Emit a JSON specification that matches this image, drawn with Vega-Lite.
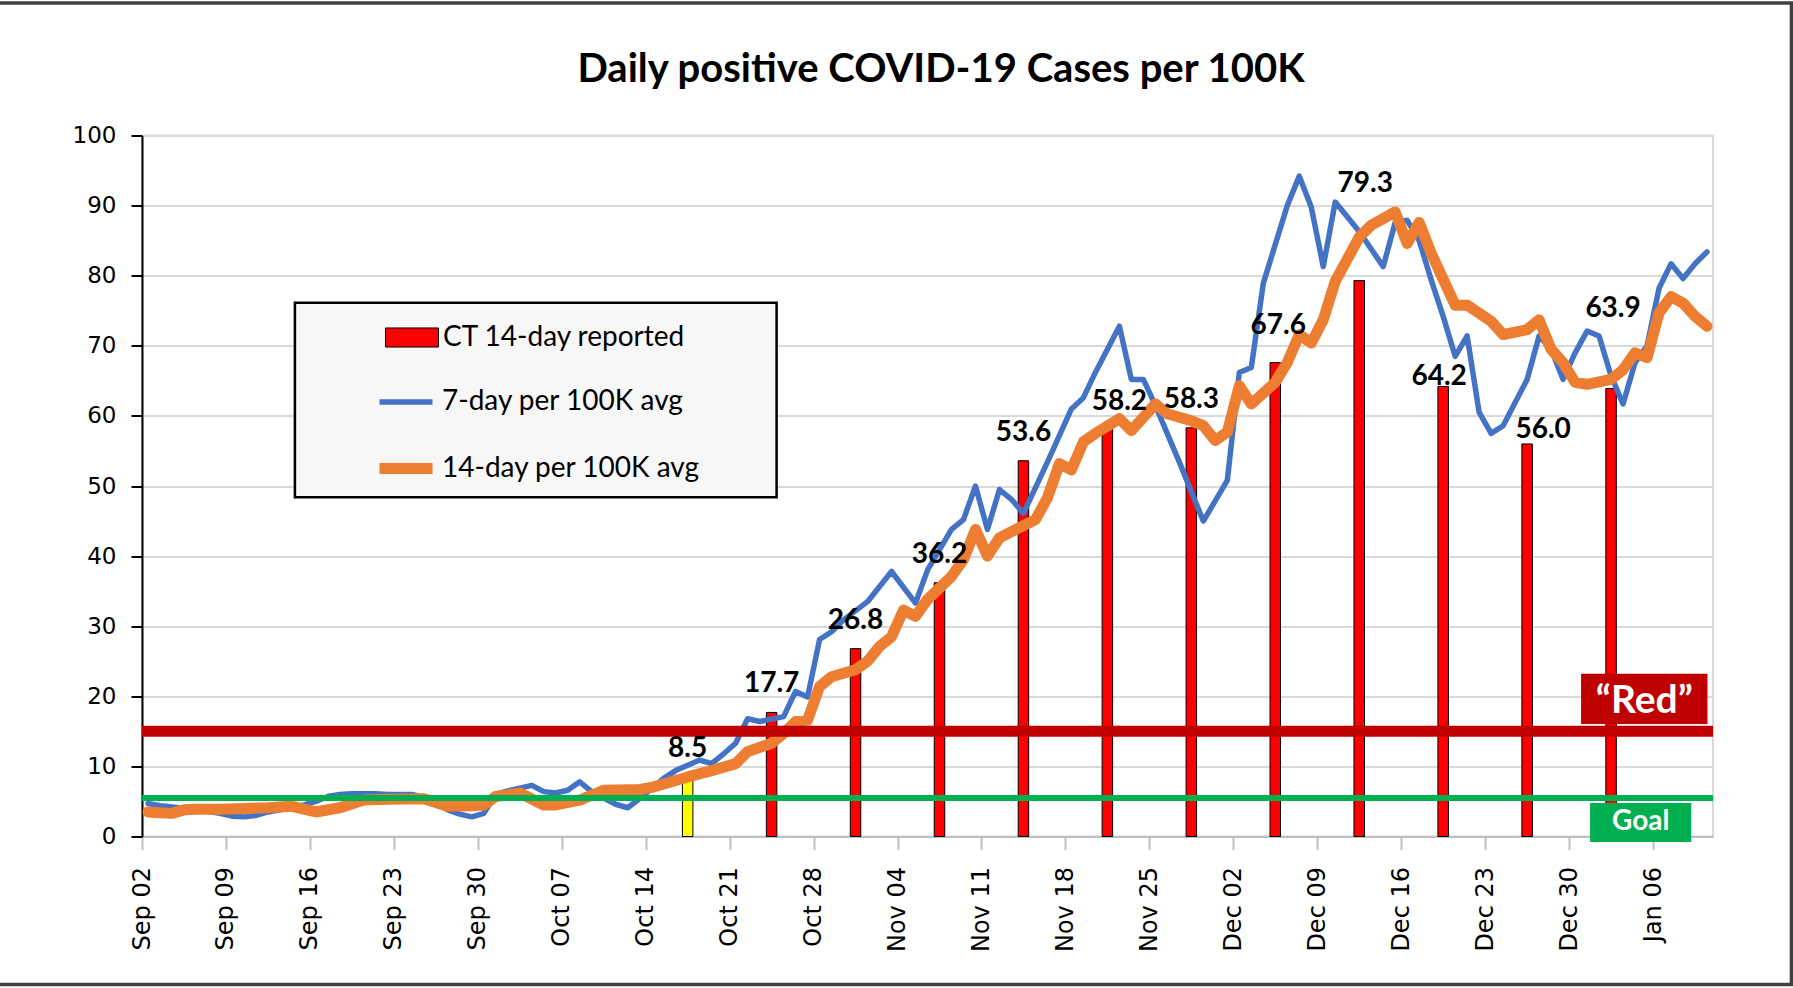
{
  "$schema": "https://vega.github.io/schema/vega-lite/v6.json",
  "autosize": {"type": "none"},
  "padding": {"left": 142, "top": 135.5, "right": 80, "bottom": 151.5},
  "width": 1571,
  "height": 701,
  "background": "white",
  "title": {"text": "Daily positive COVID-19 Cases per 100K", "font": "Lato", "fontSize": 40, "fontWeight": "bold", "color": "black", "anchor": "middle", "frame": "group", "baseline": "alphabetic", "offset": 0, "dx": 13.5, "dy": 121},
  "config": {
    "view": {"stroke": "#D9D9D9", "strokeWidth": 2}
  },
  "datasets": {
    "bars": [
      {"date": "2020-10-17", "series": "CT 14-day reported", "value": 8.5},
      {"date": "2020-10-24", "series": "CT 14-day reported", "value": 17.7},
      {"date": "2020-10-31", "series": "CT 14-day reported", "value": 26.8},
      {"date": "2020-11-07", "series": "CT 14-day reported", "value": 36.2},
      {"date": "2020-11-14", "series": "CT 14-day reported", "value": 53.6},
      {"date": "2020-11-21", "series": "CT 14-day reported", "value": 58.2},
      {"date": "2020-11-28", "series": "CT 14-day reported", "value": 58.3},
      {"date": "2020-12-05", "series": "CT 14-day reported", "value": 67.6},
      {"date": "2020-12-12", "series": "CT 14-day reported", "value": 79.3},
      {"date": "2020-12-19", "series": "CT 14-day reported", "value": 64.2},
      {"date": "2020-12-26", "series": "CT 14-day reported", "value": 56.0},
      {"date": "2021-01-02", "series": "CT 14-day reported", "value": 63.9}
    ],
    "avg7": [
      {"date": "2020-09-02", "series": "7-day per 100K avg", "value": 4.7},
      {"date": "2020-09-03", "series": "7-day per 100K avg", "value": 4.4},
      {"date": "2020-09-04", "series": "7-day per 100K avg", "value": 4.2},
      {"date": "2020-09-05", "series": "7-day per 100K avg", "value": 4.0},
      {"date": "2020-09-06", "series": "7-day per 100K avg", "value": 3.8},
      {"date": "2020-09-07", "series": "7-day per 100K avg", "value": 3.6},
      {"date": "2020-09-08", "series": "7-day per 100K avg", "value": 3.3},
      {"date": "2020-09-09", "series": "7-day per 100K avg", "value": 2.9},
      {"date": "2020-09-10", "series": "7-day per 100K avg", "value": 2.8},
      {"date": "2020-09-11", "series": "7-day per 100K avg", "value": 3.0},
      {"date": "2020-09-12", "series": "7-day per 100K avg", "value": 3.5},
      {"date": "2020-09-13", "series": "7-day per 100K avg", "value": 3.8},
      {"date": "2020-09-14", "series": "7-day per 100K avg", "value": 4.1},
      {"date": "2020-09-15", "series": "7-day per 100K avg", "value": 4.5},
      {"date": "2020-09-16", "series": "7-day per 100K avg", "value": 5.0},
      {"date": "2020-09-17", "series": "7-day per 100K avg", "value": 5.7},
      {"date": "2020-09-18", "series": "7-day per 100K avg", "value": 6.0},
      {"date": "2020-09-19", "series": "7-day per 100K avg", "value": 6.1},
      {"date": "2020-09-20", "series": "7-day per 100K avg", "value": 6.1},
      {"date": "2020-09-21", "series": "7-day per 100K avg", "value": 6.1},
      {"date": "2020-09-22", "series": "7-day per 100K avg", "value": 6.0},
      {"date": "2020-09-23", "series": "7-day per 100K avg", "value": 6.0},
      {"date": "2020-09-24", "series": "7-day per 100K avg", "value": 6.0},
      {"date": "2020-09-25", "series": "7-day per 100K avg", "value": 5.6},
      {"date": "2020-09-26", "series": "7-day per 100K avg", "value": 4.8},
      {"date": "2020-09-27", "series": "7-day per 100K avg", "value": 3.8},
      {"date": "2020-09-28", "series": "7-day per 100K avg", "value": 3.2},
      {"date": "2020-09-29", "series": "7-day per 100K avg", "value": 2.8},
      {"date": "2020-09-30", "series": "7-day per 100K avg", "value": 3.3},
      {"date": "2020-10-01", "series": "7-day per 100K avg", "value": 6.0},
      {"date": "2020-10-02", "series": "7-day per 100K avg", "value": 6.5},
      {"date": "2020-10-03", "series": "7-day per 100K avg", "value": 6.9},
      {"date": "2020-10-04", "series": "7-day per 100K avg", "value": 7.3},
      {"date": "2020-10-05", "series": "7-day per 100K avg", "value": 6.4},
      {"date": "2020-10-06", "series": "7-day per 100K avg", "value": 6.2},
      {"date": "2020-10-07", "series": "7-day per 100K avg", "value": 6.6},
      {"date": "2020-10-08", "series": "7-day per 100K avg", "value": 7.8},
      {"date": "2020-10-09", "series": "7-day per 100K avg", "value": 6.4},
      {"date": "2020-10-10", "series": "7-day per 100K avg", "value": 5.5},
      {"date": "2020-10-11", "series": "7-day per 100K avg", "value": 4.6},
      {"date": "2020-10-12", "series": "7-day per 100K avg", "value": 4.1},
      {"date": "2020-10-13", "series": "7-day per 100K avg", "value": 5.4},
      {"date": "2020-10-15", "series": "7-day per 100K avg", "value": 8.3},
      {"date": "2020-10-16", "series": "7-day per 100K avg", "value": 9.4},
      {"date": "2020-10-18", "series": "7-day per 100K avg", "value": 10.9},
      {"date": "2020-10-19", "series": "7-day per 100K avg", "value": 10.4},
      {"date": "2020-10-20", "series": "7-day per 100K avg", "value": 11.8},
      {"date": "2020-10-21", "series": "7-day per 100K avg", "value": 13.3},
      {"date": "2020-10-22", "series": "7-day per 100K avg", "value": 16.8},
      {"date": "2020-10-23", "series": "7-day per 100K avg", "value": 16.4},
      {"date": "2020-10-25", "series": "7-day per 100K avg", "value": 17.1},
      {"date": "2020-10-26", "series": "7-day per 100K avg", "value": 20.7},
      {"date": "2020-10-27", "series": "7-day per 100K avg", "value": 19.9},
      {"date": "2020-10-28", "series": "7-day per 100K avg", "value": 28.1},
      {"date": "2020-10-29", "series": "7-day per 100K avg", "value": 29.2},
      {"date": "2020-10-30", "series": "7-day per 100K avg", "value": 30.9},
      {"date": "2020-11-01", "series": "7-day per 100K avg", "value": 33.5},
      {"date": "2020-11-03", "series": "7-day per 100K avg", "value": 37.8},
      {"date": "2020-11-05", "series": "7-day per 100K avg", "value": 33.3},
      {"date": "2020-11-06", "series": "7-day per 100K avg", "value": 38.0},
      {"date": "2020-11-08", "series": "7-day per 100K avg", "value": 43.8},
      {"date": "2020-11-09", "series": "7-day per 100K avg", "value": 45.2},
      {"date": "2020-11-10", "series": "7-day per 100K avg", "value": 50.0},
      {"date": "2020-11-11", "series": "7-day per 100K avg", "value": 43.8},
      {"date": "2020-11-12", "series": "7-day per 100K avg", "value": 49.5},
      {"date": "2020-11-13", "series": "7-day per 100K avg", "value": 48.1},
      {"date": "2020-11-14", "series": "7-day per 100K avg", "value": 46.1},
      {"date": "2020-11-16", "series": "7-day per 100K avg", "value": 53.4},
      {"date": "2020-11-18", "series": "7-day per 100K avg", "value": 61.0},
      {"date": "2020-11-19", "series": "7-day per 100K avg", "value": 62.6},
      {"date": "2020-11-20", "series": "7-day per 100K avg", "value": 66.2},
      {"date": "2020-11-22", "series": "7-day per 100K avg", "value": 72.8},
      {"date": "2020-11-23", "series": "7-day per 100K avg", "value": 65.2},
      {"date": "2020-11-24", "series": "7-day per 100K avg", "value": 65.2},
      {"date": "2020-11-25", "series": "7-day per 100K avg", "value": 61.5},
      {"date": "2020-11-27", "series": "7-day per 100K avg", "value": 53.4},
      {"date": "2020-11-29", "series": "7-day per 100K avg", "value": 45.0},
      {"date": "2020-12-01", "series": "7-day per 100K avg", "value": 50.8},
      {"date": "2020-12-02", "series": "7-day per 100K avg", "value": 66.2},
      {"date": "2020-12-03", "series": "7-day per 100K avg", "value": 66.9},
      {"date": "2020-12-04", "series": "7-day per 100K avg", "value": 78.9},
      {"date": "2020-12-06", "series": "7-day per 100K avg", "value": 90.0},
      {"date": "2020-12-07", "series": "7-day per 100K avg", "value": 94.2},
      {"date": "2020-12-08", "series": "7-day per 100K avg", "value": 89.8},
      {"date": "2020-12-09", "series": "7-day per 100K avg", "value": 81.3},
      {"date": "2020-12-10", "series": "7-day per 100K avg", "value": 90.5},
      {"date": "2020-12-12", "series": "7-day per 100K avg", "value": 86.3},
      {"date": "2020-12-14", "series": "7-day per 100K avg", "value": 81.3},
      {"date": "2020-12-15", "series": "7-day per 100K avg", "value": 87.6},
      {"date": "2020-12-16", "series": "7-day per 100K avg", "value": 87.9},
      {"date": "2020-12-17", "series": "7-day per 100K avg", "value": 85.0},
      {"date": "2020-12-18", "series": "7-day per 100K avg", "value": 79.4},
      {"date": "2020-12-19", "series": "7-day per 100K avg", "value": 74.2},
      {"date": "2020-12-20", "series": "7-day per 100K avg", "value": 68.5},
      {"date": "2020-12-21", "series": "7-day per 100K avg", "value": 71.4},
      {"date": "2020-12-22", "series": "7-day per 100K avg", "value": 60.5},
      {"date": "2020-12-23", "series": "7-day per 100K avg", "value": 57.5},
      {"date": "2020-12-24", "series": "7-day per 100K avg", "value": 58.6},
      {"date": "2020-12-26", "series": "7-day per 100K avg", "value": 65.2},
      {"date": "2020-12-27", "series": "7-day per 100K avg", "value": 71.4},
      {"date": "2020-12-28", "series": "7-day per 100K avg", "value": 69.5},
      {"date": "2020-12-29", "series": "7-day per 100K avg", "value": 65.2},
      {"date": "2020-12-30", "series": "7-day per 100K avg", "value": 69.0},
      {"date": "2020-12-31", "series": "7-day per 100K avg", "value": 72.1},
      {"date": "2021-01-01", "series": "7-day per 100K avg", "value": 71.4},
      {"date": "2021-01-02", "series": "7-day per 100K avg", "value": 65.7},
      {"date": "2021-01-03", "series": "7-day per 100K avg", "value": 61.7},
      {"date": "2021-01-04", "series": "7-day per 100K avg", "value": 67.6},
      {"date": "2021-01-05", "series": "7-day per 100K avg", "value": 70.0},
      {"date": "2021-01-06", "series": "7-day per 100K avg", "value": 78.2},
      {"date": "2021-01-07", "series": "7-day per 100K avg", "value": 81.7},
      {"date": "2021-01-08", "series": "7-day per 100K avg", "value": 79.6},
      {"date": "2021-01-09", "series": "7-day per 100K avg", "value": 81.7},
      {"date": "2021-01-10", "series": "7-day per 100K avg", "value": 83.4}
    ],
    "avg14": [
      {"date": "2020-09-02", "series": "14-day per 100K avg", "value": 3.5},
      {"date": "2020-09-03", "series": "14-day per 100K avg", "value": 3.4},
      {"date": "2020-09-04", "series": "14-day per 100K avg", "value": 3.3},
      {"date": "2020-09-05", "series": "14-day per 100K avg", "value": 3.8},
      {"date": "2020-09-06", "series": "14-day per 100K avg", "value": 3.9},
      {"date": "2020-09-08", "series": "14-day per 100K avg", "value": 3.9},
      {"date": "2020-09-10", "series": "14-day per 100K avg", "value": 4.0},
      {"date": "2020-09-12", "series": "14-day per 100K avg", "value": 4.1},
      {"date": "2020-09-14", "series": "14-day per 100K avg", "value": 4.3},
      {"date": "2020-09-16", "series": "14-day per 100K avg", "value": 3.5},
      {"date": "2020-09-18", "series": "14-day per 100K avg", "value": 4.1},
      {"date": "2020-09-20", "series": "14-day per 100K avg", "value": 5.2},
      {"date": "2020-09-22", "series": "14-day per 100K avg", "value": 5.3},
      {"date": "2020-09-25", "series": "14-day per 100K avg", "value": 5.4},
      {"date": "2020-09-27", "series": "14-day per 100K avg", "value": 4.3},
      {"date": "2020-09-29", "series": "14-day per 100K avg", "value": 4.4},
      {"date": "2020-09-30", "series": "14-day per 100K avg", "value": 4.5},
      {"date": "2020-10-01", "series": "14-day per 100K avg", "value": 5.7},
      {"date": "2020-10-03", "series": "14-day per 100K avg", "value": 6.2},
      {"date": "2020-10-05", "series": "14-day per 100K avg", "value": 4.5},
      {"date": "2020-10-06", "series": "14-day per 100K avg", "value": 4.5},
      {"date": "2020-10-08", "series": "14-day per 100K avg", "value": 5.2},
      {"date": "2020-10-10", "series": "14-day per 100K avg", "value": 6.6},
      {"date": "2020-10-13", "series": "14-day per 100K avg", "value": 6.7},
      {"date": "2020-10-14", "series": "14-day per 100K avg", "value": 7.0},
      {"date": "2020-10-15", "series": "14-day per 100K avg", "value": 7.5},
      {"date": "2020-10-17", "series": "14-day per 100K avg", "value": 8.5},
      {"date": "2020-10-19", "series": "14-day per 100K avg", "value": 9.4},
      {"date": "2020-10-21", "series": "14-day per 100K avg", "value": 10.4},
      {"date": "2020-10-22", "series": "14-day per 100K avg", "value": 12.1},
      {"date": "2020-10-24", "series": "14-day per 100K avg", "value": 13.3},
      {"date": "2020-10-25", "series": "14-day per 100K avg", "value": 14.7},
      {"date": "2020-10-26", "series": "14-day per 100K avg", "value": 16.4},
      {"date": "2020-10-27", "series": "14-day per 100K avg", "value": 16.6},
      {"date": "2020-10-28", "series": "14-day per 100K avg", "value": 21.4},
      {"date": "2020-10-29", "series": "14-day per 100K avg", "value": 22.8},
      {"date": "2020-10-31", "series": "14-day per 100K avg", "value": 23.8},
      {"date": "2020-11-01", "series": "14-day per 100K avg", "value": 25.0},
      {"date": "2020-11-02", "series": "14-day per 100K avg", "value": 27.1},
      {"date": "2020-11-03", "series": "14-day per 100K avg", "value": 28.5},
      {"date": "2020-11-04", "series": "14-day per 100K avg", "value": 32.3},
      {"date": "2020-11-05", "series": "14-day per 100K avg", "value": 31.4},
      {"date": "2020-11-06", "series": "14-day per 100K avg", "value": 33.8},
      {"date": "2020-11-08", "series": "14-day per 100K avg", "value": 37.1},
      {"date": "2020-11-09", "series": "14-day per 100K avg", "value": 39.5},
      {"date": "2020-11-10", "series": "14-day per 100K avg", "value": 43.8},
      {"date": "2020-11-11", "series": "14-day per 100K avg", "value": 40.0},
      {"date": "2020-11-12", "series": "14-day per 100K avg", "value": 42.6},
      {"date": "2020-11-13", "series": "14-day per 100K avg", "value": 43.5},
      {"date": "2020-11-15", "series": "14-day per 100K avg", "value": 45.2},
      {"date": "2020-11-16", "series": "14-day per 100K avg", "value": 48.3},
      {"date": "2020-11-17", "series": "14-day per 100K avg", "value": 53.2},
      {"date": "2020-11-18", "series": "14-day per 100K avg", "value": 52.3},
      {"date": "2020-11-19", "series": "14-day per 100K avg", "value": 56.3},
      {"date": "2020-11-20", "series": "14-day per 100K avg", "value": 57.5},
      {"date": "2020-11-22", "series": "14-day per 100K avg", "value": 59.6},
      {"date": "2020-11-23", "series": "14-day per 100K avg", "value": 57.9},
      {"date": "2020-11-25", "series": "14-day per 100K avg", "value": 61.7},
      {"date": "2020-11-26", "series": "14-day per 100K avg", "value": 60.3},
      {"date": "2020-11-28", "series": "14-day per 100K avg", "value": 59.3},
      {"date": "2020-11-29", "series": "14-day per 100K avg", "value": 58.6},
      {"date": "2020-11-30", "series": "14-day per 100K avg", "value": 56.5},
      {"date": "2020-12-01", "series": "14-day per 100K avg", "value": 57.7},
      {"date": "2020-12-02", "series": "14-day per 100K avg", "value": 64.3},
      {"date": "2020-12-03", "series": "14-day per 100K avg", "value": 61.7},
      {"date": "2020-12-05", "series": "14-day per 100K avg", "value": 64.8},
      {"date": "2020-12-06", "series": "14-day per 100K avg", "value": 67.6},
      {"date": "2020-12-07", "series": "14-day per 100K avg", "value": 71.6},
      {"date": "2020-12-08", "series": "14-day per 100K avg", "value": 70.4},
      {"date": "2020-12-09", "series": "14-day per 100K avg", "value": 73.7},
      {"date": "2020-12-10", "series": "14-day per 100K avg", "value": 79.2},
      {"date": "2020-12-12", "series": "14-day per 100K avg", "value": 85.5},
      {"date": "2020-12-13", "series": "14-day per 100K avg", "value": 87.2},
      {"date": "2020-12-15", "series": "14-day per 100K avg", "value": 89.1},
      {"date": "2020-12-16", "series": "14-day per 100K avg", "value": 84.6},
      {"date": "2020-12-17", "series": "14-day per 100K avg", "value": 87.6},
      {"date": "2020-12-18", "series": "14-day per 100K avg", "value": 83.2},
      {"date": "2020-12-20", "series": "14-day per 100K avg", "value": 75.8},
      {"date": "2020-12-21", "series": "14-day per 100K avg", "value": 75.8},
      {"date": "2020-12-23", "series": "14-day per 100K avg", "value": 73.5},
      {"date": "2020-12-24", "series": "14-day per 100K avg", "value": 71.6},
      {"date": "2020-12-26", "series": "14-day per 100K avg", "value": 72.3},
      {"date": "2020-12-27", "series": "14-day per 100K avg", "value": 73.7},
      {"date": "2020-12-28", "series": "14-day per 100K avg", "value": 69.5},
      {"date": "2020-12-29", "series": "14-day per 100K avg", "value": 67.6},
      {"date": "2020-12-30", "series": "14-day per 100K avg", "value": 64.8},
      {"date": "2020-12-31", "series": "14-day per 100K avg", "value": 64.5},
      {"date": "2021-01-02", "series": "14-day per 100K avg", "value": 65.2},
      {"date": "2021-01-03", "series": "14-day per 100K avg", "value": 66.6},
      {"date": "2021-01-04", "series": "14-day per 100K avg", "value": 69.0},
      {"date": "2021-01-05", "series": "14-day per 100K avg", "value": 68.3},
      {"date": "2021-01-06", "series": "14-day per 100K avg", "value": 74.7},
      {"date": "2021-01-07", "series": "14-day per 100K avg", "value": 77.0},
      {"date": "2021-01-08", "series": "14-day per 100K avg", "value": 76.1},
      {"date": "2021-01-09", "series": "14-day per 100K avg", "value": 74.2},
      {"date": "2021-01-10", "series": "14-day per 100K avg", "value": 72.8}
    ]
  },
  "layer": [
    {
      "data": {"values": [{}]},
      "mark": {"type": "rect", "filled": false, "stroke": "#404040", "strokeWidth": 3.5},
      "encoding": {
        "x": {"datum": {"year": 2020, "month": 8, "date": 20, "hours": 21, "utc": true}, "type": "temporal", "axis": {"title": null, "labelExpr": "utcFormat(datum.value, '%b %d')"}, "scale": {"type": "utc", "domain": [{"year": 2020, "month": 9, "date": 2, "utc": true}, {"year": 2021, "month": 1, "date": 11, "utc": true}]}},
        "x2": {"datum": {"year": 2021, "month": 1, "date": 17, "hours": 13, "utc": true}},
        "y": {"datum": 118.9, "type": "quantitative", "axis": {"title": null}, "scale": {"domain": [0, 100], "nice": false}},
        "y2": {"datum": -21.1}
      }
    },
    {
      "data": {"values": [{}]},
      "mark": {"type": "rect", "fill": "#F7F7F7", "stroke": "black", "strokeWidth": 2.5},
      "encoding": {
        "x": {"datum": {"year": 2020, "month": 9, "date": 14, "hours": 18, "utc": true}, "type": "temporal", "axis": {"title": null, "labelExpr": "utcFormat(datum.value, '%b %d')"}},
        "x2": {"datum": {"year": 2020, "month": 10, "date": 24, "hours": 22, "utc": true}},
        "y": {"datum": 76.15, "type": "quantitative", "axis": {"title": null}},
        "y2": {"datum": 48.4}
      }
    },
    {
      "data": {"name": "bars"},
      "mark": {"type": "bar", "width": 10.5, "stroke": "black", "strokeWidth": 1},
      "encoding": {
        "x": {
          "field": "date", "type": "temporal", "timeUnit": "utcyearmonthdate", "bandPosition": 0.5,
          "scale": {"type": "utc", "domain": [{"year": 2020, "month": 9, "date": 2, "utc": true}, {"year": 2021, "month": 1, "date": 11, "utc": true}]},
          "axis": {
            "title": null,
            "values": [
              {"year": 2020, "month": 9, "date": 2, "utc": true},
              {"year": 2020, "month": 9, "date": 9, "utc": true},
              {"year": 2020, "month": 9, "date": 16, "utc": true},
              {"year": 2020, "month": 9, "date": 23, "utc": true},
              {"year": 2020, "month": 9, "date": 30, "utc": true},
              {"year": 2020, "month": 10, "date": 7, "utc": true},
              {"year": 2020, "month": 10, "date": 14, "utc": true},
              {"year": 2020, "month": 10, "date": 21, "utc": true},
              {"year": 2020, "month": 10, "date": 28, "utc": true},
              {"year": 2020, "month": 11, "date": 4, "utc": true},
              {"year": 2020, "month": 11, "date": 11, "utc": true},
              {"year": 2020, "month": 11, "date": 18, "utc": true},
              {"year": 2020, "month": 11, "date": 25, "utc": true},
              {"year": 2020, "month": 12, "date": 2, "utc": true},
              {"year": 2020, "month": 12, "date": 9, "utc": true},
              {"year": 2020, "month": 12, "date": 16, "utc": true},
              {"year": 2020, "month": 12, "date": 23, "utc": true},
              {"year": 2020, "month": 12, "date": 30, "utc": true},
              {"year": 2021, "month": 1, "date": 6, "utc": true}
            ],
            "labelExpr": "utcFormat(datum.value, '%b %d')",
            "labelAngle": 270,
            "labelFont": "DejaVu Sans", "labelFontSize": 24, "labelColor": "black",
            "labelPadding": 17, "labelOverlap": false, "labelFlush": false, "labelBound": false,
            "tickSize": 13, "tickColor": "#BFBFBF", "tickWidth": 2,
            "domainColor": "#BFBFBF", "domainWidth": 2,
            "grid": false
          }
        },
        "y": {
          "field": "value", "type": "quantitative",
          "scale": {"domain": [0, 100], "nice": false},
          "axis": {
            "title": null,
            "values": [0, 5, 10, 15, 20, 25, 30, 35, 40, 45, 50, 55, 60, 65, 70, 75, 80, 85, 90, 95, 100],
            "labelExpr": "datum.value % 10 === 0 ? datum.label : ''",
            "labelFont": "DejaVu Sans", "labelFontSize": 23, "labelColor": "black", "labelPadding": 15,
            "tickSize": 11, "tickColor": "black", "tickWidth": 2,
            "domainColor": "black", "domainWidth": 2,
            "grid": true, "gridColor": "#D9D9D9", "gridWidth": 2,
            "gridOpacity": {"condition": {"test": "datum.value % 10 !== 0", "value": 0}, "value": 1}
          }
        },
        "color": {
          "condition": {"test": "datum.value < 10", "value": "#FFFF00"},
          "field": "series", "type": "nominal",
          "scale": {"domain": ["CT 14-day reported"], "range": ["#FF0000"]},
          "legend": {
            "orient": "none", "legendX": 243, "legendY": 175,
            "title": null, "direction": "vertical", "padding": 0,
            "symbolSize": 2809, "symbolType": "M-1,-0.36H1V0.36H-1Z",
            "symbolStrokeColor": "black", "symbolStrokeWidth": 1,
            "labelFont": "Lato", "labelFontSize": 28, "labelColor": "black", "labelOffset": 4, "labelLimit": 500
          }
        }
      }
    },
    {
      "data": {"name": "avg7"},
      "mark": {"type": "line", "strokeCap": "round", "strokeJoin": "round"},
      "encoding": {
        "x": {"field": "date", "type": "temporal", "timeUnit": "utcyearmonthdate", "bandPosition": 0.5, "axis": {"title": null, "labelExpr": "utcFormat(datum.value, '%b %d')"}},
        "y": {"field": "value", "type": "quantitative", "axis": {"title": null}},
        "stroke": {
          "field": "series", "type": "ordinal",
          "scale": {"domain": ["7-day per 100K avg", "14-day per 100K avg"], "range": ["#4472C4", "#ED7D31"]},
          "legend": {
            "orient": "none", "legendX": 232, "legendY": 237,
            "title": null, "direction": "vertical", "padding": 0,
            "symbolSize": 2809, "symbolType": "stroke",
            "labelFont": "Lato", "labelFontSize": 28, "labelColor": "black", "labelOffset": 4, "labelLimit": 500,
            "rowPadding": 20
          }
        },
        "strokeWidth": {
          "field": "series", "type": "ordinal",
          "scale": {"domain": ["7-day per 100K avg", "14-day per 100K avg"], "range": [5.5, 11]},
          "legend": {
            "orient": "none", "legendX": 232, "legendY": 237,
            "title": null, "direction": "vertical", "padding": 0,
            "symbolSize": 2809, "symbolType": "stroke",
            "labelFont": "Lato", "labelFontSize": 28, "labelColor": "black", "labelOffset": 4, "labelLimit": 500,
            "rowPadding": 20
          }
        }
      }
    },
    {
      "data": {"name": "avg14"},
      "mark": {"type": "line", "strokeCap": "round", "strokeJoin": "round"},
      "encoding": {
        "x": {"field": "date", "type": "temporal", "timeUnit": "utcyearmonthdate", "bandPosition": 0.5, "axis": {"title": null, "labelExpr": "utcFormat(datum.value, '%b %d')"}},
        "y": {"field": "value", "type": "quantitative", "axis": {"title": null}},
        "stroke": {"field": "series", "type": "ordinal"},
        "strokeWidth": {"field": "series", "type": "ordinal"}
      }
    },
    {
      "data": {"values": [{}]},
      "mark": {"type": "rule", "color": "#C00000", "strokeWidth": 11},
      "encoding": {"y": {"datum": 15, "type": "quantitative", "axis": {"title": null}}}
    },
    {
      "data": {"values": [{}]},
      "mark": {"type": "rule", "color": "#00B050", "strokeWidth": 6},
      "encoding": {"y": {"datum": 5.5, "type": "quantitative", "axis": {"title": null}}}
    },
    {
      "data": {"values": [{}]},
      "mark": {"type": "rect", "fill": "#C00000"},
      "encoding": {
        "x": {"datum": {"year": 2020, "month": 12, "date": 31, "utc": true}, "type": "temporal", "axis": {"title": null, "labelExpr": "utcFormat(datum.value, '%b %d')"}},
        "x2": {"datum": {"year": 2021, "month": 1, "date": 10, "hours": 13, "utc": true}},
        "y": {"datum": 16.05, "type": "quantitative", "axis": {"title": null}},
        "y2": {"datum": 23.2}
      }
    },
    {
      "data": {"values": [{}]},
      "mark": {"type": "text", "text": "\u201cRed\u201d", "font": "Lato", "fontWeight": "bold", "fontSize": 39, "color": "white", "align": "center", "baseline": "middle"},
      "encoding": {
        "x": {"datum": {"year": 2021, "month": 1, "date": 5, "hours": 6, "minutes": 30, "utc": true}, "type": "temporal", "axis": {"title": null, "labelExpr": "utcFormat(datum.value, '%b %d')"}},
        "y": {"datum": 19.4, "type": "quantitative", "axis": {"title": null}}
      }
    },
    {
      "data": {"values": [{}]},
      "mark": {"type": "rect", "fill": "#00B050"},
      "encoding": {
        "x": {"datum": {"year": 2020, "month": 12, "date": 31, "hours": 18, "utc": true}, "type": "temporal", "axis": {"title": null, "labelExpr": "utcFormat(datum.value, '%b %d')"}},
        "x2": {"datum": {"year": 2021, "month": 1, "date": 9, "hours": 4, "minutes": 30, "utc": true}},
        "y": {"datum": 4.78, "type": "quantitative", "axis": {"title": null}},
        "y2": {"datum": -0.78}
      }
    },
    {
      "data": {"values": [{}]},
      "mark": {"type": "text", "text": "Goal", "font": "Lato", "fontWeight": "bold", "fontSize": 28, "color": "white", "align": "center", "baseline": "middle"},
      "encoding": {
        "x": {"datum": {"year": 2021, "month": 1, "date": 4, "hours": 23, "minutes": 30, "utc": true}, "type": "temporal", "axis": {"title": null, "labelExpr": "utcFormat(datum.value, '%b %d')"}},
        "y": {"datum": 2.0, "type": "quantitative", "axis": {"title": null}}
      }
    },
    {
      "data": {"name": "bars"},
      "transform": [{"filter": "datum.value == 8.5 || datum.value == 17.7 || datum.value == 26.8 || datum.value == 36.2 || datum.value == 53.6 || datum.value == 58.3"}],
      "mark": {"type": "text", "font": "Lato", "fontWeight": "bold", "fontSize": 28, "color": "black", "align": "center", "baseline": "alphabetic", "dy": -20},
      "encoding": {
        "x": {"field": "date", "type": "temporal", "timeUnit": "utcyearmonthdate", "bandPosition": 0.5, "axis": {"title": null, "labelExpr": "utcFormat(datum.value, '%b %d')"}},
        "y": {"field": "value", "type": "quantitative", "axis": {"title": null}},
        "text": {"field": "value", "type": "quantitative", "format": ".1f"}
      }
    },
    {
      "data": {"name": "bars"},
      "transform": [{"filter": "datum.value == 58.2"}],
      "mark": {"type": "text", "font": "Lato", "fontWeight": "bold", "fontSize": 28, "color": "black", "align": "center", "baseline": "alphabetic", "dy": -18.5, "dx": 12},
      "encoding": {
        "x": {"field": "date", "type": "temporal", "timeUnit": "utcyearmonthdate", "bandPosition": 0.5, "axis": {"title": null, "labelExpr": "utcFormat(datum.value, '%b %d')"}},
        "y": {"field": "value", "type": "quantitative", "axis": {"title": null}},
        "text": {"field": "value", "type": "quantitative", "format": ".1f"}
      }
    },
    {
      "data": {"name": "bars"},
      "transform": [{"filter": "datum.value == 67.6"}],
      "mark": {"type": "text", "font": "Lato", "fontWeight": "bold", "fontSize": 28, "color": "black", "align": "center", "baseline": "alphabetic", "dy": -28.5, "dx": 3},
      "encoding": {
        "x": {"field": "date", "type": "temporal", "timeUnit": "utcyearmonthdate", "bandPosition": 0.5, "axis": {"title": null, "labelExpr": "utcFormat(datum.value, '%b %d')"}},
        "y": {"field": "value", "type": "quantitative", "axis": {"title": null}},
        "text": {"field": "value", "type": "quantitative", "format": ".1f"}
      }
    },
    {
      "data": {"name": "bars"},
      "transform": [{"filter": "datum.value == 79.3"}],
      "mark": {"type": "text", "font": "Lato", "fontWeight": "bold", "fontSize": 28, "color": "black", "align": "center", "baseline": "alphabetic", "dy": -89, "dx": 6},
      "encoding": {
        "x": {"field": "date", "type": "temporal", "timeUnit": "utcyearmonthdate", "bandPosition": 0.5, "axis": {"title": null, "labelExpr": "utcFormat(datum.value, '%b %d')"}},
        "y": {"field": "value", "type": "quantitative", "axis": {"title": null}},
        "text": {"field": "value", "type": "quantitative", "format": ".1f"}
      }
    },
    {
      "data": {"name": "bars"},
      "transform": [{"filter": "datum.value == 64.2"}],
      "mark": {"type": "text", "font": "Lato", "fontWeight": "bold", "fontSize": 28, "color": "black", "align": "center", "baseline": "alphabetic", "dy": -1.5, "dx": -4},
      "encoding": {
        "x": {"field": "date", "type": "temporal", "timeUnit": "utcyearmonthdate", "bandPosition": 0.5, "axis": {"title": null, "labelExpr": "utcFormat(datum.value, '%b %d')"}},
        "y": {"field": "value", "type": "quantitative", "axis": {"title": null}},
        "text": {"field": "value", "type": "quantitative", "format": ".1f"}
      }
    },
    {
      "data": {"name": "bars"},
      "transform": [{"filter": "datum.value == 56.0"}],
      "mark": {"type": "text", "font": "Lato", "fontWeight": "bold", "fontSize": 28, "color": "black", "align": "center", "baseline": "alphabetic", "dy": -5.5, "dx": 16},
      "encoding": {
        "x": {"field": "date", "type": "temporal", "timeUnit": "utcyearmonthdate", "bandPosition": 0.5, "axis": {"title": null, "labelExpr": "utcFormat(datum.value, '%b %d')"}},
        "y": {"field": "value", "type": "quantitative", "axis": {"title": null}},
        "text": {"field": "value", "type": "quantitative", "format": ".1f"}
      }
    },
    {
      "data": {"name": "bars"},
      "transform": [{"filter": "datum.value == 63.9"}],
      "mark": {"type": "text", "font": "Lato", "fontWeight": "bold", "fontSize": 28, "color": "black", "align": "center", "baseline": "alphabetic", "dy": -72, "dx": 2},
      "encoding": {
        "x": {"field": "date", "type": "temporal", "timeUnit": "utcyearmonthdate", "bandPosition": 0.5, "axis": {"title": null, "labelExpr": "utcFormat(datum.value, '%b %d')"}},
        "y": {"field": "value", "type": "quantitative", "axis": {"title": null}},
        "text": {"field": "value", "type": "quantitative", "format": ".1f"}
      }
    }
  ]
}
